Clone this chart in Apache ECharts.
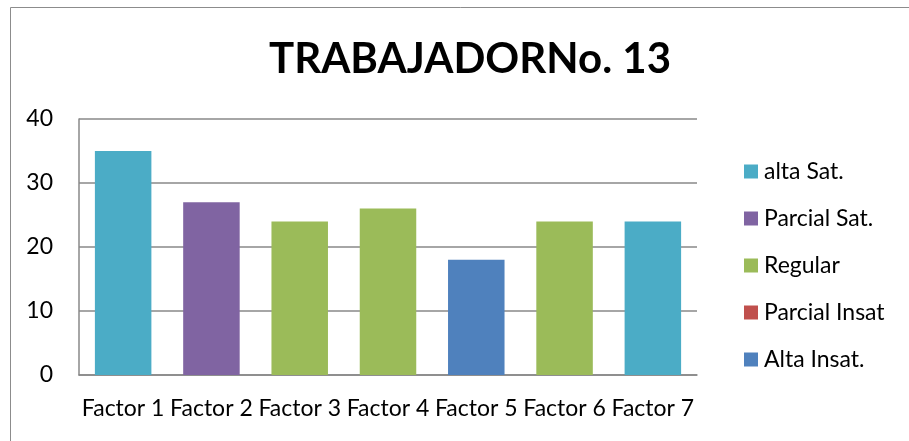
<!DOCTYPE html>
<html>
<head>
<meta charset="utf-8">
<script src="https://cdn.jsdelivr.net/npm/echarts@6/dist/echarts.min.js"></script>
<style>
  html, body { margin: 0; padding: 0; background: #fff; }
  #chart { width: 909px; height: 441px; }
</style>
</head>
<body>
<div id="chart"></div>
<script>
// datos del gráfico
const categories = ['Factor 1', 'Factor 2', 'Factor 3', 'Factor 4', 'Factor 5', 'Factor 6', 'Factor 7'];
const seriesNames = ['alta Sat.', 'Parcial Sat.', 'Regular', 'Parcial Insat', 'Alta Insat.'];
const altaSat = [35, '-', '-', '-', '-', '-', 24];
const parcialSat = ['-', 27, '-', '-', '-', '-', '-'];
const regular = ['-', '-', 24, 26, '-', 24, '-'];
const parcialInsat = ['-', '-', '-', '-', '-', '-', '-'];
const altaInsat = ['-', '-', '-', '-', 18, '-', '-'];
const yTicks = [0, 10, 20, 30, 40];

const colors = ['#4BACC6', '#8064A2', '#9BBB59', '#C0504D', '#4F81BD'];
const values = [altaSat, parcialSat, regular, parcialInsat, altaInsat];
const font = 'Lato, "Open Sans", sans-serif';

const chart = echarts.init(document.getElementById('chart'));

const series = seriesNames.map(function (name, i) {
    return {
        name: name,
        type: 'bar',
        stack: 'total',
        barWidth: '64%',
        itemStyle: { color: colors[i] },
        data: values[i]
    };
});

chart.setOption({
    animation: false,
    color: colors,
    title: {
        text: 'TRABAJADORNo. 13',
        left: 465,
        textAlign: 'center',
        top: 33,
        textStyle: { fontFamily: font, fontWeight: 'bold', fontSize: 42, color: '#000' }
    },
    graphic: [{
        type: 'rect',
        shape: { x: 10.5, y: 7.5, width: 1000, height: 1000 },
        style: { fill: 'none', stroke: '#8c8c8c', lineWidth: 1 },
        silent: true
    }],
    legend: {
        orient: 'vertical',
        left: 739,
        top: 155,
        itemWidth: 14,
        itemHeight: 14,
        itemGap: 24,
        icon: 'rect',
        textStyle: { fontFamily: font, fontSize: 23, color: '#000', padding: [0, 0, 0, 1] },
        data: seriesNames
    },
    grid: { left: 79, right: 212, top: 119, bottom: 66 },
    xAxis: {
        type: 'category',
        data: categories,
        axisLine: { lineStyle: { color: '#888', width: 1.5 } },
        axisTick: { show: false },
        axisLabel: { color: '#000', fontFamily: font, fontSize: 23, margin: 22, interval: 0 }
    },
    yAxis: {
        type: 'value',
        min: yTicks[0],
        max: yTicks[yTicks.length - 1],
        interval: 10,
        axisLine: { show: true, lineStyle: { color: '#888', width: 1.5 } },
        axisTick: { show: false },
        splitLine: { lineStyle: { color: '#888', width: 1.5 } },
        axisLabel: { color: '#000', fontFamily: font, fontSize: 23, margin: 26 }
    },
    series: series
});
</script>
</body>
</html>
